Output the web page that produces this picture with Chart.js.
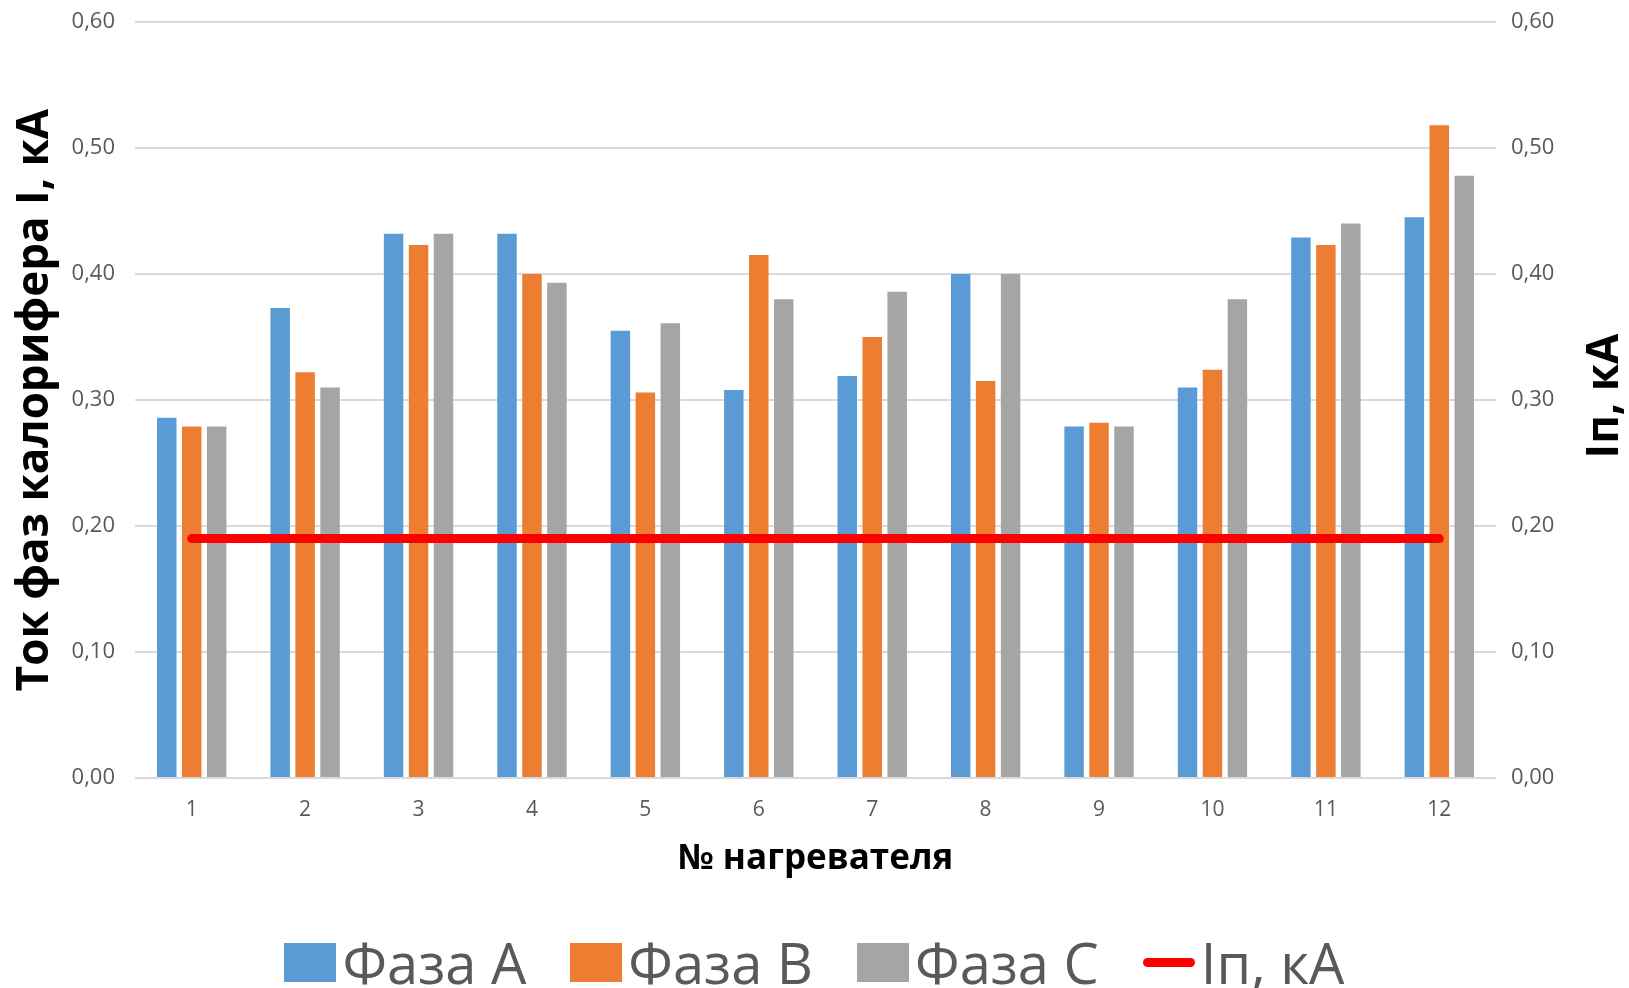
<!DOCTYPE html>
<html lang="ru">
<head>
<meta charset="utf-8">
<title>Ток фаз калорифера</title>
<script src="https://cdn.jsdelivr.net/npm/chart.js@4.4.1/dist/chart.umd.min.js"></script>
<style>
  html, body { margin: 0; padding: 0; background: #fff; }
  #wrap { position: relative; width: 1629px; height: 988px; }
  #legend {
    position: absolute; left: 0; top: 937px; width: 1629px; height: 50px;
    display: flex; justify-content: center; align-items: center;
    font-family: "Open Sans", sans-serif; font-size: 56px; line-height: 50px; color: #595959;
  }
  .item { display: flex; align-items: center; margin: 0 22px; }
  .swatch { width: 52px; height: 39px; margin-right: 6px; }
  .dash { width: 52px; height: 9px; border-radius: 5px; margin-right: 6px; }
</style>
</head>
<body>
<div id="wrap">
  <canvas id="chart" width="1629" height="988"></canvas>
  <div id="legend"></div>
</div>
<script>
// номера нагревателей
const heaters = ["1", "2", "3", "4", "5", "6", "7", "8", "9", "10", "11", "12"];

// ток по фазам, кА
const phaseA = [0.286, 0.373, 0.432, 0.432, 0.355, 0.308, 0.319, 0.400, 0.279, 0.310, 0.429, 0.445];
const phaseB = [0.279, 0.322, 0.423, 0.400, 0.306, 0.415, 0.350, 0.315, 0.282, 0.324, 0.423, 0.518];
const phaseC = [0.279, 0.310, 0.432, 0.393, 0.361, 0.380, 0.386, 0.400, 0.279, 0.380, 0.440, 0.478];

// пусковой ток
const ip = [0.19, 0.19, 0.19, 0.19, 0.19, 0.19, 0.19, 0.19, 0.19, 0.19, 0.19, 0.19];

const tickLabels = ["0,00", "0,10", "0,20", "0,30", "0,40", "0,50", "0,60"];

const tickColor = "#595959";
const fmt = (v) => tickLabels[Math.round(v * 10)] ?? v.toFixed(2).replace(".", ",");

const barOpts = { categoryPercentage: 0.66, barPercentage: 0.78, order: 1 };

// подпись правой оси: повернута как левая (снизу вверх)
const rightTitle = {
  id: "rightTitle",
  afterDraw(chart) {
    const { ctx, chartArea } = chart;
    ctx.save();
    ctx.translate(1605, (chartArea.top + chartArea.bottom) / 2 - 4);
    ctx.rotate(-Math.PI / 2);
    ctx.font = "bold 44px 'Open Sans'";
    ctx.fillStyle = "#000";
    ctx.textAlign = "center";
    ctx.textBaseline = "middle";
    ctx.fillText("Iп, кА", 0, 0);
    ctx.restore();
  },
};

const chart = new Chart(document.getElementById("chart"), {
  type: "bar",
  data: {
    labels: heaters,
    datasets: [
      {
        type: "line",
        label: "Iп, кА",
        data: ip,
        yAxisID: "y1",
        borderColor: "#FF0000",
        backgroundColor: "#FF0000",
        borderWidth: 9,
        borderCapStyle: "round",
        pointRadius: 0,
        order: 0,
      },
      { label: "Фаза А", data: phaseA, backgroundColor: "#5B9BD5", ...barOpts },
      { label: "Фаза В", data: phaseB, backgroundColor: "#ED7D31", ...barOpts },
      { label: "Фаза С", data: phaseC, backgroundColor: "#A5A5A5", ...barOpts },
    ],
  },
  options: {
    responsive: false,
    animation: false,
    layout: { padding: { left: 9, right: 0, top: 22, bottom: 108 } },
    plugins: {
      legend: { display: false },
      tooltip: { enabled: false },
    },
    scales: {
      x: {
        grid: { display: false },
        border: { display: false },
        ticks: { color: tickColor, font: { family: "Open Sans", size: 21 }, padding: 11 },
        title: {
          display: true,
          text: "№ нагревателя",
          color: "#000",
          font: { family: "Open Sans", size: 35, weight: "bold", lineHeight: 1.2 },
          padding: { top: 0, bottom: 0 },
        },
        afterFit: (s) => { s.height = 102; },
      },
      y: {
        position: "left",
        min: 0,
        max: 0.6,
        ticks: { stepSize: 0.1, color: tickColor, font: { family: "Open Sans", size: 22 }, padding: 20, callback: fmt },
        grid: { color: "#D9D9D9", lineWidth: 2, drawTicks: false },
        border: { display: false },
        title: {
          display: true,
          text: "Ток фаз калорифера I, кА",
          color: "#000",
          font: { family: "Open Sans", size: 44, weight: "bold", lineHeight: 1.2 },
          padding: { top: 0, bottom: 0 },
        },
        afterFit: (s) => { s.width = 126; s.paddingTop = 0; s.paddingBottom = 0; },
      },
      y1: {
        position: "right",
        min: 0,
        max: 0.6,
        ticks: { stepSize: 0.1, color: tickColor, font: { family: "Open Sans", size: 22 }, padding: 15, callback: fmt },
        grid: { drawOnChartArea: false, drawTicks: false },
        border: { display: false },
        afterFit: (s) => { s.width = 133; s.paddingTop = 0; s.paddingBottom = 0; },
      },
    },
  },
  plugins: [rightTitle],
});

// легенда: сначала столбцы, потом линия
const legend = document.getElementById("legend");
const items = chart.data.datasets.slice(1).concat(chart.data.datasets[0]);
items.forEach((ds) => {
  const item = document.createElement("div");
  item.className = "item";
  const mark = document.createElement("div");
  mark.className = ds.type === "line" ? "dash" : "swatch";
  mark.style.background = ds.type === "line" ? ds.borderColor : ds.backgroundColor;
  const text = document.createElement("span");
  text.textContent = ds.label;
  item.appendChild(mark);
  item.appendChild(text);
  legend.appendChild(item);
});
</script>
</body>
</html>
